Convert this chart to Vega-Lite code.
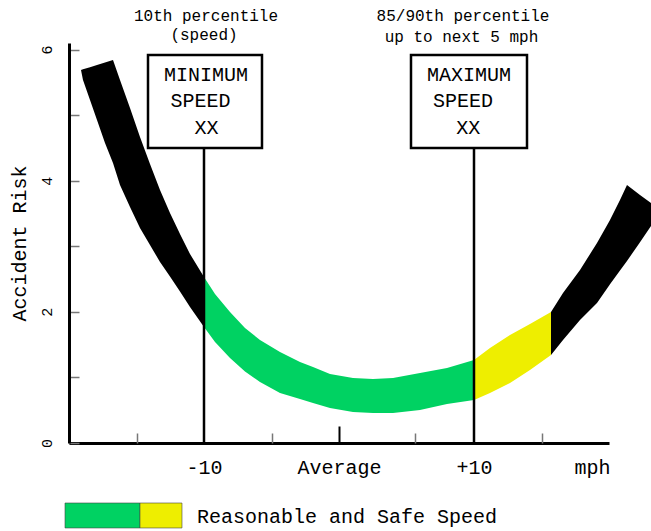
{
  "$schema": "https://vega.github.io/schema/vega-lite/v6.json",
  "width": 540,
  "height": 400,
  "autosize": {"type": "none"},
  "padding": {"left": 69, "top": 43, "right": 42, "bottom": 88},
  "background": "white",
  "config": {"view": {"stroke": null}, "font": "Liberation Mono"},
  "datasets": {
    "band": [
      {"seg": "L", "x": -19.111, "top": 5.689, "bottom": 5.689},
      {"seg": "L", "x": -18.963, "top": 5.698, "bottom": 5.536},
      {"seg": "L", "x": -18.444, "top": 5.731, "bottom": 5.231},
      {"seg": "L", "x": -17.926, "top": 5.765, "bottom": 4.926},
      {"seg": "L", "x": -17.333, "top": 5.803, "bottom": 4.575},
      {"seg": "L", "x": -16.741, "top": 5.841, "bottom": 4.270},
      {"seg": "L", "x": -16.222, "top": 5.536, "bottom": 3.935},
      {"seg": "L", "x": -15.481, "top": 5.109, "bottom": 3.599},
      {"seg": "L", "x": -14.741, "top": 4.667, "bottom": 3.279},
      {"seg": "L", "x": -14.0, "top": 4.255, "bottom": 3.020},
      {"seg": "L", "x": -13.259, "top": 3.858, "bottom": 2.760},
      {"seg": "L", "x": -12.519, "top": 3.508, "bottom": 2.539},
      {"seg": "L", "x": -11.778, "top": 3.187, "bottom": 2.309},
      {"seg": "L", "x": -11.037, "top": 2.882, "bottom": 2.074},
      {"seg": "L", "x": -10.0, "top": 2.532, "bottom": 1.769},
      {"seg": "G", "x": -10.0, "top": 2.532, "bottom": 1.769},
      {"seg": "G", "x": -9.185, "top": 2.272, "bottom": 1.540},
      {"seg": "G", "x": -8.074, "top": 1.998, "bottom": 1.296},
      {"seg": "G", "x": -6.963, "top": 1.754, "bottom": 1.090},
      {"seg": "G", "x": -5.852, "top": 1.571, "bottom": 0.930},
      {"seg": "G", "x": -4.370, "top": 1.388, "bottom": 0.763},
      {"seg": "G", "x": -2.889, "top": 1.235, "bottom": 0.671},
      {"seg": "G", "x": -1.926, "top": 1.159, "bottom": 0.610},
      {"seg": "G", "x": -0.667, "top": 1.052, "bottom": 0.534},
      {"seg": "G", "x": 1.037, "top": 0.991, "bottom": 0.473},
      {"seg": "G", "x": 2.519, "top": 0.976, "bottom": 0.458},
      {"seg": "G", "x": 4.0, "top": 0.991, "bottom": 0.458},
      {"seg": "G", "x": 6.0, "top": 1.068, "bottom": 0.503},
      {"seg": "G", "x": 8.0, "top": 1.144, "bottom": 0.595},
      {"seg": "G", "x": 10.0, "top": 1.266, "bottom": 0.656},
      {"seg": "Y", "x": 10.0, "top": 1.266, "bottom": 0.656},
      {"seg": "Y", "x": 11.185, "top": 1.449, "bottom": 0.763},
      {"seg": "Y", "x": 12.667, "top": 1.647, "bottom": 0.915},
      {"seg": "Y", "x": 14.148, "top": 1.815, "bottom": 1.113},
      {"seg": "Y", "x": 15.704, "top": 1.998, "bottom": 1.342},
      {"seg": "R", "x": 15.704, "top": 1.998, "bottom": 1.342},
      {"seg": "R", "x": 16.593, "top": 2.288, "bottom": 1.571},
      {"seg": "R", "x": 17.852, "top": 2.638, "bottom": 1.876},
      {"seg": "R", "x": 19.111, "top": 3.050, "bottom": 2.135},
      {"seg": "R", "x": 20.074, "top": 3.401, "bottom": 2.420},
      {"seg": "R", "x": 20.815, "top": 3.706, "bottom": 2.631},
      {"seg": "R", "x": 21.333, "top": 3.935, "bottom": 2.776},
      {"seg": "R", "x": 22.296, "top": 3.782, "bottom": 3.062},
      {"seg": "R", "x": 23.111, "top": 3.660, "bottom": 3.309}
    ],
    "lines": [
      {"x": -10, "y0": 0, "y1": 4.5},
      {"x": 10, "y0": 0, "y1": 4.5}
    ],
    "boxes": [
      {"x1": -14.148, "x2": -5.704, "y1": 4.499, "y2": 5.917},
      {"x1": 5.333, "x2": 13.926, "y1": 4.499, "y2": 5.917}
    ],
    "boxtext": [
      {"t": "MINIMUM", "x": -9.85, "y": 5.612},
      {"t": "SPEED", "x": -10.26, "y": 5.216},
      {"t": "XX", "x": -9.81, "y": 4.804},
      {"t": "MAXIMUM", "x": 9.63, "y": 5.612},
      {"t": "SPEED", "x": 9.185, "y": 5.216},
      {"t": "XX", "x": 9.58, "y": 4.804}
    ],
    "annot": [
      {"t": "10th percentile", "x": -9.85, "y": 6.512},
      {"t": "(speed)", "x": -10.0, "y": 6.222},
      {"t": "85/90th percentile", "x": 9.185, "y": 6.512},
      {"t": "up to next 5 mph", "x": 9.07, "y": 6.192}
    ],
    "legendrects": [
      {"c": "G", "x1": -20.296, "x2": -14.741, "y1": -0.915, "y2": -1.296},
      {"c": "Y", "x1": -14.741, "x2": -11.63, "y1": -0.915, "y2": -1.296}
    ],
    "legendtext": [
      {"t": "Reasonable and Safe Speed", "x": -10.519, "y": -1.129}
    ]
  },
  "resolve": {"axis": {"x": "independent", "y": "independent"}},
  "layer": [
    {
      "data": {"name": "band"},
      "mark": {"type": "area", "interpolate": "linear"},
      "encoding": {
        "x": {
          "field": "x", "type": "quantitative",
          "scale": {"domain": [-20, 20], "nice": false, "zero": false},
          "axis": {
            "orient": "bottom", "title": null, "values": [-10, 0, 10, 18.74],
            "labelExpr": "datum.value == 0 ? 'Average' : datum.value == -10 ? '-10' : datum.value == 10 ? '+10' : 'mph'",
            "ticks": false, "grid": false, "domainColor": "#000", "domainWidth": 3,
            "labelFontSize": 20, "labelColor": "#000", "labelPadding": 14,
            "labelFlush": false, "labelOverlap": false, "labelBound": false
          }
        },
        "y": {
          "field": "top", "type": "quantitative", "stack": null,
          "scale": {"domain": [0, 6.1], "nice": false, "zero": false},
          "axis": {
            "orient": "left", "title": "Accident Risk", "values": [0, 1, 2, 3, 4, 5, 6],
            "labelExpr": "datum.value % 2 == 0 ? datum.label : ''",
            "tickSize": -10, "tickColor": "#777", "tickWidth": 1.5, "grid": false,
            "domainColor": "#000", "domainWidth": 3, "labelAngle": -90,
            "labelFontSize": 15, "labelColor": "#000", "labelPadding": 25,
            "labelFlush": false, "titleFontSize": 20, "titleFontWeight": "normal",
            "titleColor": "#000", "titlePadding": 10
          }
        },
        "y2": {"field": "bottom"},
        "color": {
          "field": "seg", "type": "nominal",
          "scale": {"domain": ["L", "G", "Y", "R"], "range": ["#000000", "#00d262", "#eeee00", "#000000"]},
          "legend": null
        }
      }
    },
    {
      "data": {"name": "lines"},
      "mark": {"type": "rule", "color": "#000", "strokeWidth": 2.5},
      "encoding": {
        "x": {
          "field": "x", "type": "quantitative",
          "axis": {"orient": "bottom", "title": null, "values": [-15, -5, 5.6, 15], "labels": false, "domain": false, "grid": false, "tickSize": -10, "tickColor": "#777", "tickWidth": 1.5}
        },
        "y": {"field": "y0", "type": "quantitative", "axis": null},
        "y2": {"field": "y1"}
      }
    },
    {
      "data": {"name": "boxes"},
      "mark": {"type": "rect", "fill": "white", "stroke": "#000", "strokeWidth": 2.5},
      "encoding": {
        "x": {
          "field": "x1", "type": "quantitative",
          "axis": {"orient": "bottom", "title": null, "values": [0], "labels": false, "domain": false, "grid": false, "tickSize": -17, "tickColor": "#000", "tickWidth": 2}
        },
        "x2": {"field": "x2"},
        "y": {"field": "y1", "type": "quantitative", "axis": null},
        "y2": {"field": "y2"}
      }
    },
    {
      "data": {"name": "boxtext"},
      "mark": {"type": "text", "fontSize": 20, "color": "#000", "align": "center", "baseline": "middle"},
      "encoding": {
        "x": {"field": "x", "type": "quantitative", "axis": null},
        "y": {"field": "y", "type": "quantitative", "axis": null},
        "text": {"field": "t"}
      }
    },
    {
      "data": {"name": "annot"},
      "mark": {"type": "text", "fontSize": 16, "color": "#000", "align": "center", "baseline": "middle"},
      "encoding": {
        "x": {"field": "x", "type": "quantitative", "axis": null},
        "y": {"field": "y", "type": "quantitative", "axis": null},
        "text": {"field": "t"}
      }
    },
    {
      "data": {"name": "legendrects"},
      "mark": {"type": "rect", "stroke": "#444", "strokeWidth": 0.6},
      "encoding": {
        "x": {"field": "x1", "type": "quantitative", "axis": null},
        "x2": {"field": "x2"},
        "y": {"field": "y1", "type": "quantitative", "axis": null},
        "y2": {"field": "y2"},
        "color": {"field": "c", "type": "nominal", "legend": null}
      }
    },
    {
      "data": {"name": "legendtext"},
      "mark": {"type": "text", "fontSize": 20, "color": "#000", "align": "left", "baseline": "middle"},
      "encoding": {
        "x": {"field": "x", "type": "quantitative", "axis": null},
        "y": {"field": "y", "type": "quantitative", "axis": null},
        "text": {"field": "t"}
      }
    }
  ]
}
